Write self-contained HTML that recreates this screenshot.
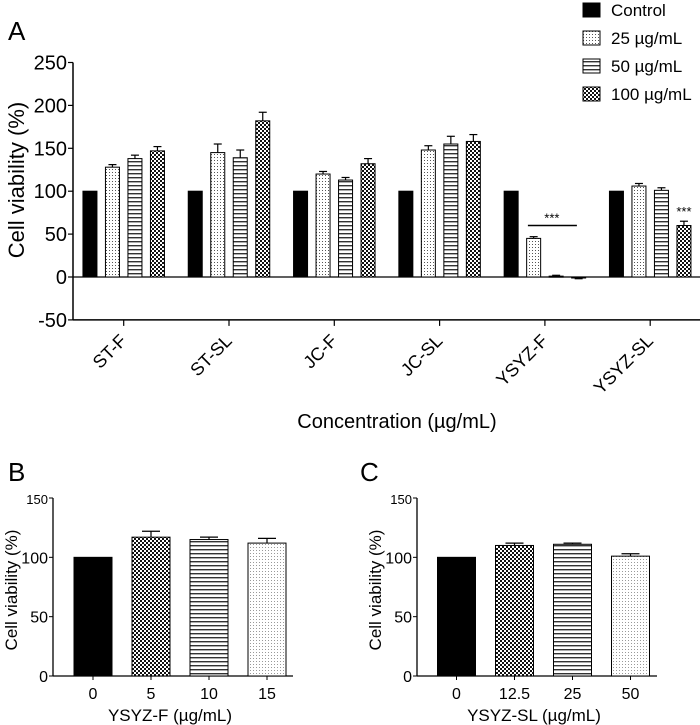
<!DOCTYPE html>
<html><head><meta charset="utf-8"><style>
body{margin:0;background:#fff;}
svg{display:block;font-family:"Liberation Sans",sans-serif;}
</style></head><body>
<svg id="chart" width="700" height="725" viewBox="0 0 700 725" xmlns="http://www.w3.org/2000/svg">
<defs>
<pattern id="pDots" width="3" height="3" patternUnits="userSpaceOnUse"><rect width="3" height="3" fill="#fff"/><rect x="1" y="1" width="1" height="1" fill="#555"/></pattern>
<pattern id="pDotsL" width="3" height="3" patternUnits="userSpaceOnUse"><rect width="3" height="3" fill="#fff"/><rect x="1" y="1" width="1" height="1" fill="#999"/></pattern>
<pattern id="pLines" width="4" height="4" patternUnits="userSpaceOnUse"><rect width="4" height="4" fill="#fff"/><rect y="1" width="4" height="1.4" fill="#333"/></pattern>
<pattern id="pCheck" width="4" height="4" patternUnits="userSpaceOnUse"><rect width="4" height="4" fill="#fff"/><rect width="2" height="2" fill="#111"/><rect x="2" y="2" width="2" height="2" fill="#111"/></pattern>
</defs>
<g id="root"></g>
</svg>
<script>
const groupsA = ["ST-F","ST-SL","JC-F","JC-SL","YSYZ-F","YSYZ-SL"];
const seriesA = ["Control","25 µg/mL","50 µg/mL","100 µg/mL"];
const controlA = [100,100,100,100,100,100];
const v25 = [128,145,120,148,45,106];
const v50 = [138,139,113,155,1,101];
const v100 = [147,182,132,158,-1,60];
const e25 = [3,10,3,5,2,3];
const e50 = [4,9,3,9,1,3];
const e100 = [5,10,6,8,1,5];
const ticksA = [-50,0,50,100,150,200,250];
const catsB = ["0","5","10","15"];
const valsB = [100,117,115,112];
const errB = [0,5,2,4];
const catsC = ["0","12.5","25","50"];
const valsC = [100,110,111,101];
const errC = [0,2,1,2];
const ticksBC = [0,50,100,150];

const NS="http://www.w3.org/2000/svg";
const root=document.getElementById('root');
function mk(tag,attrs,parent,text){const e=document.createElementNS(NS,tag);for(const k in attrs)e.setAttribute(k,attrs[k]);if(text!==undefined)e.textContent=text;(parent||root).appendChild(e);return e;}
const fills=["#000","url(#pDots)","url(#pLines)","url(#pCheck)"];

// Panel A
const gA=mk('g',{});


const yA=v=>277-(v/50)*42.9;
const axA=73, groupW=105.3, g0=123.7;
const gx=i=>g0+i*groupW;
const t=mk('text',{x:8,y:40,'font-size':26},gA,'A');

mk('line',{x1:axA,y1:yA(250),x2:axA,y2:yA(-50),stroke:'#000','stroke-width':1.5},gA);
mk('line',{x1:axA,y1:yA(-50),x2:700,y2:yA(-50),stroke:'#000','stroke-width':1.5},gA);
mk('line',{x1:axA,y1:yA(0),x2:700,y2:yA(0),stroke:'#000','stroke-width':1.2},gA);
ticksA.forEach(v=>{
  mk('line',{x1:axA-5,y1:yA(v),x2:axA,y2:yA(v),stroke:'#000','stroke-width':1.2},gA);
  const l=mk('text',{x:axA-6,y:yA(v)+7,'font-size':20,'text-anchor':'end'},gA,String(v));
  
});
const yt=mk('text',{x:0,y:0,'font-size':22,'text-anchor':'middle',transform:`translate(24,180) rotate(-90)`},gA,'Cell viability (%)');

const allVals=[controlA,v25,v50,v100], allErr=[null,e25,e50,e100];
groupsA.forEach((g,i)=>{
  const cx=gx(i);
  mk('line',{x1:cx,y1:yA(-50),x2:cx,y2:yA(-50)+6,stroke:'#000','stroke-width':1.2},gA);
  const xl=mk('text',{x:0,y:0,'font-size':18,'text-anchor':'end',transform:`translate(${cx+4},${yA(-50)+22}) rotate(-45)`},gA,g);
  
  for(let s=0;s<4;s++){
    const v=allVals[s][i];
    const bx=cx-33.75+s*22.5-7;
    const y1=Math.min(yA(v),yA(0)), h=Math.max(Math.abs(yA(v)-yA(0)),1);
    const b=mk('rect',{x:bx,y:y1,width:14,height:h,fill:fills[s],stroke:'#000','stroke-width':1},gA);
    
    if(allErr[s]){
      const e=allErr[s][i], top=yA(v+e*(v>=0?1:-1));
      mk('line',{x1:bx+7,y1:yA(v),x2:bx+7,y2:top,stroke:'#000','stroke-width':1.2},gA);
      mk('line',{x1:bx+3,y1:top,x2:bx+11,y2:top,stroke:'#000','stroke-width':1.2},gA);
    }
  }
});
const sl=mk('line',{x1:gx(4)-17,y1:yA(60),x2:gx(4)+32,y2:yA(60),stroke:'#000','stroke-width':1.5},gA);

mk('text',{x:gx(4)+7,y:yA(60)-3,'font-size':13,'text-anchor':'middle'},gA,'***');
mk('text',{x:gx(5)+33.75,y:yA(v100[5]+e100[5])-5,'font-size':13,'text-anchor':'middle'},gA,'***');
const xt=mk('text',{x:397,y:428,'font-size':20,'text-anchor':'middle'},gA,'Concentration (µg/mL)');

seriesA.forEach((s,i)=>{
  const y=3+i*28;
  const lg=mk('g',{},gA);
  
  mk('rect',{x:583,y:y,width:17,height:14,fill:fills[i],stroke:'#000','stroke-width':1},lg);
  mk('text',{x:611,y:y+13,'font-size':17},lg,s);
});

function panel(name,label,lx,ax,barX,cats,vals,errs,xtitle,lastFill){
  const g=mk('g',{});
  
  
  const y=v=>676-v*(178/150);
  mk('text',{x:lx,y:481,'font-size':26},g,label);
  mk('line',{x1:ax,y1:y(150),x2:ax,y2:y(0),stroke:'#000','stroke-width':1.3},g);
  mk('line',{x1:ax,y1:y(0),x2:ax+240,y2:y(0),stroke:'#000','stroke-width':1.3},g);
  ticksBC.forEach(v=>{
    mk('line',{x1:ax-4,y1:y(v),x2:ax,y2:y(v),stroke:'#000','stroke-width':1},g);
    mk('text',{x:ax-5,y:y(v)+6,'font-size':v==150?13:16,'text-anchor':'end'},g,String(v));
  });
  mk('text',{x:0,y:0,'font-size':17,'text-anchor':'middle',transform:`translate(${ax-36},590) rotate(-90)`},g,'Cell viability (%)');
  const f=["#000","url(#pCheck)","url(#pLines)",lastFill];
  cats.forEach((c,i)=>{
    const bx=barX+i*58, v=vals[i];
    const b=mk('rect',{x:bx,y:y(v),width:38,height:y(0)-y(v),fill:f[i],stroke:'#000','stroke-width':1},g);
    
    if(errs[i]){const top=y(v+errs[i]);
      mk('line',{x1:bx+19,y1:y(v),x2:bx+19,y2:top,stroke:'#000','stroke-width':1.2},g);
      mk('line',{x1:bx+10,y1:top,x2:bx+28,y2:top,stroke:'#000','stroke-width':1.2},g);}
    mk('line',{x1:bx+19,y1:y(0),x2:bx+19,y2:y(0)+4,stroke:'#000','stroke-width':1},g);
    mk('text',{x:bx+19,y:y(0)+23,'font-size':16,'text-anchor':'middle'},g,c);
  });
  mk('text',{x:ax+117,y:721,'font-size':17,'text-anchor':'middle'},g,xtitle);
}
panel('panel-b','B',8,53,74,catsB,valsB,errB,'YSYZ-F (µg/mL)','url(#pDotsL)');
panel('panel-c','C',360,417,437.5,catsC,valsC,errC,'YSYZ-SL (µg/mL)','url(#pDotsL)');
</script>
</body></html>
